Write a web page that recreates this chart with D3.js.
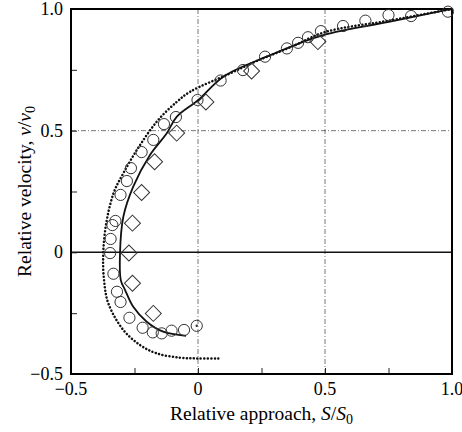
<!DOCTYPE html>
<html>
<head>
<meta charset="utf-8">
<script src="https://cdn.jsdelivr.net/npm/d3@7"></script>
<style>
  body { margin: 0; background: #fff; }
  svg { font-family: "Liberation Serif", "DejaVu Serif", serif; }
</style>
</head>
<body>
<svg width="462" height="432"></svg>
<script>
// measured circles (S/S0, v/v0)
const circleX = [0.984, 0.839, 0.75, 0.659, 0.571, 0.484, 0.433, 0.394, 0.35, 0.264, 0.177, 0.089, -0.002,
  -0.087, -0.134, -0.176, -0.222, -0.264, -0.28, -0.305, -0.325, -0.337, -0.344, -0.346, -0.333, -0.319,
  -0.305, -0.27, -0.218, -0.178, -0.143, -0.104, -0.055, -0.005];
const circleY = [0.989, 0.971, 0.975, 0.952, 0.93, 0.909, 0.884, 0.861, 0.838, 0.804, 0.749, 0.706, 0.626,
  0.556, 0.527, 0.462, 0.412, 0.346, 0.293, 0.236, 0.129, 0.112, 0.055, -0.003, -0.088, -0.162,
  -0.204, -0.269, -0.31, -0.329, -0.333, -0.322, -0.319, -0.302];

// measured diamonds
const diamondX = [0.472, 0.211, 0.031, -0.084, -0.171, -0.222, -0.258, -0.272, -0.258, -0.176];
const diamondY = [0.866, 0.745, 0.618, 0.49, 0.372, 0.246, 0.12, -0.003, -0.127, -0.251];

// solid curve
const solidX = [1.0, 0.979, 0.756, 0.493, 0.27, 0.1, 0.001, -0.084, -0.123, -0.189, -0.255, -0.294, -0.307,
  -0.304, -0.287, -0.255, -0.202, -0.137, -0.047];
const solidY = [1.0, 0.996, 0.948, 0.893, 0.804, 0.722, 0.626, 0.557, 0.489, 0.4, 0.27, 0.146, -0.002,
  -0.114, -0.155, -0.224, -0.285, -0.326, -0.343];

// dotted curve
const dotX = [1.0, 0.75, 0.5, 0.362, 0.231, 0.126, -0.031, -0.084, -0.16, -0.235, -0.294, -0.33, -0.359, -0.373,
  -0.37, -0.353, -0.294, -0.228, -0.163, -0.071, 0.0, 0.08];
const dotY = [1.0, 0.952, 0.905, 0.842, 0.786, 0.735, 0.66, 0.618, 0.54, 0.43, 0.325, 0.25, 0.133, 0.0,
  -0.114, -0.21, -0.319, -0.381, -0.415, -0.433, -0.436, -0.436];

const xTicks = [-0.5, 0, 0.5, 1.0];
const yTicks = [-0.5, 0, 0.5, 1.0];
const minorTicks = [-0.25, 0.25, 0.75];

const svg = d3.select("svg");
const pLeft = 71, pRight = 452, pTop = 9, pBottom = 374;

const x = d3.scaleLinear().domain([-0.5, 1.0]).range([pLeft, pRight]);
const y = d3.scaleLinear().domain([-0.5, 1.0]).range([pBottom, pTop]);

const fmt = d => d === 0 ? "0" : d3.format(".1f")(d).replace("-", "\u2212");

// grid lines (dash-dot)
svg.append("g").selectAll("line")
  .data([0, 0.5])
  .join("line")
  .attr("x1", d => x(d)).attr("x2", d => x(d))
  .attr("y1", pTop).attr("y2", pBottom)
  .attr("stroke", "#555").attr("stroke-width", 0.8)
  .attr("stroke-dasharray", "5,2,1,2");

svg.append("line")
  .attr("x1", pLeft).attr("x2", pRight)
  .attr("y1", y(0.5)).attr("y2", y(0.5))
  .attr("stroke", "#555").attr("stroke-width", 0.8)
  .attr("stroke-dasharray", "5,2,1,2");

// zero line
svg.append("line")
  .attr("x1", pLeft).attr("x2", pRight)
  .attr("y1", y(0)).attr("y2", y(0))
  .attr("stroke", "#111").attr("stroke-width", 1.5);

// axes with inward ticks
const xAxis = d3.axisBottom(x).tickValues(xTicks.concat(minorTicks)).tickSize(-6).tickFormat("");
const yAxis = d3.axisLeft(y).tickValues(yTicks.concat(minorTicks)).tickSize(-6).tickFormat("");

svg.append("g").attr("transform", `translate(0,${pBottom})`).call(xAxis)
  .call(g => g.select(".domain").remove())
  .selectAll("line").attr("stroke", "#222");
svg.append("g").attr("transform", `translate(${pLeft},0)`).call(yAxis)
  .call(g => g.select(".domain").remove())
  .selectAll("line").attr("stroke", "#222");

// tick labels
svg.append("g").selectAll("text")
  .data(xTicks)
  .join("text")
  .attr("x", d => x(d)).attr("y", pBottom + 21)
  .attr("text-anchor", "middle")
  .attr("font-size", 18)
  .text(fmt);

svg.append("g").selectAll("text")
  .data(yTicks)
  .join("text")
  .attr("x", pLeft - 8).attr("y", d => y(d) + 6)
  .attr("text-anchor", "end")
  .attr("font-size", 18)
  .text(fmt);

// frame
svg.append("rect")
  .attr("x", pLeft).attr("y", pTop)
  .attr("width", pRight - pLeft).attr("height", pBottom - pTop)
  .attr("fill", "none").attr("stroke", "#000").attr("stroke-width", 2);

// curves
const line = d3.line()
  .x(d => x(d[0])).y(d => y(d[1]))
  .curve(d3.curveCatmullRom.alpha(0.5));

svg.append("path")
  .datum(dotX.map((v, i) => [v, dotY[i]]))
  .attr("d", line)
  .attr("fill", "none").attr("stroke", "#111")
  .attr("stroke-width", 2.5)
  .attr("stroke-linecap", "round")
  .attr("stroke-dasharray", "0.1,3.4");

svg.append("path")
  .datum(solidX.map((v, i) => [v, solidY[i]]))
  .attr("d", line)
  .attr("fill", "none").attr("stroke", "#111")
  .attr("stroke-width", 1.8);

// markers
svg.append("g").selectAll("circle")
  .data(circleX.map((v, i) => [v, circleY[i]]))
  .join("circle")
  .attr("cx", d => x(d[0])).attr("cy", d => y(d[1]))
  .attr("r", 5.6)
  .attr("fill", "none").attr("stroke", "#333").attr("stroke-width", 1);

// dot in last circle
const last = circleX.length - 1;
svg.append("circle")
  .attr("cx", x(circleX[last])).attr("cy", y(circleY[last]))
  .attr("r", 1.2).attr("fill", "#333");

const sq = d3.symbol().type(d3.symbolSquare).size(128);
svg.append("g").selectAll("path")
  .data(diamondX.map((v, i) => [v, diamondY[i]]))
  .join("path")
  .attr("d", sq)
  .attr("transform", d => `translate(${x(d[0])},${y(d[1])}) rotate(45)`)
  .attr("fill", "none").attr("stroke", "#333").attr("stroke-width", 1);

// axis titles
const xt = svg.append("text")
  .attr("x", (pLeft + pRight) / 2).attr("y", 420)
  .attr("text-anchor", "middle").attr("font-size", 19.5);
xt.append("tspan").text("Relative approach, ");
xt.append("tspan").attr("font-style", "italic").text("S");
xt.append("tspan").text("/");
xt.append("tspan").attr("font-style", "italic").text("S");
xt.append("tspan").attr("font-size", 14).attr("dy", 4).text("0");

const yt = svg.append("text")
  .attr("transform", `translate(31,${(pTop + pBottom) / 2}) rotate(-90)`)
  .attr("text-anchor", "middle").attr("font-size", 19.5);
yt.append("tspan").text("Relative velocity, ");
yt.append("tspan").attr("font-style", "italic").text("v");
yt.append("tspan").text("/");
yt.append("tspan").attr("font-style", "italic").text("v");
yt.append("tspan").attr("font-size", 14).attr("dy", 4).text("0");
</script>
</body>
</html>
